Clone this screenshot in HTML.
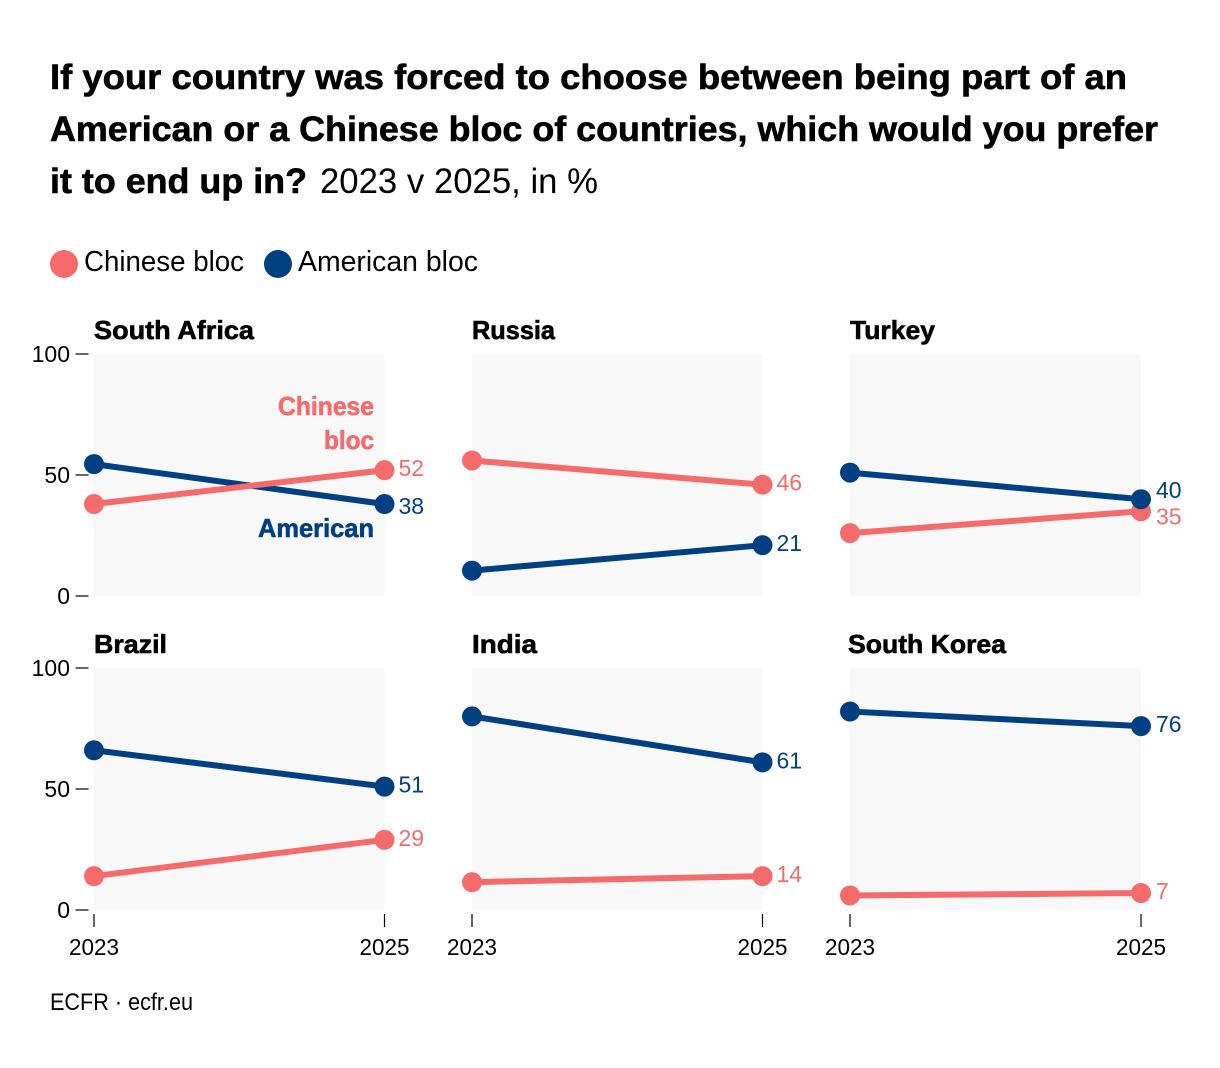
<!DOCTYPE html>
<html lang="en">
<head>
<meta charset="utf-8">
<title>American or Chinese bloc, 2023 v 2025</title>
<style>
html,body{margin:0;padding:0;background:#fff;width:1220px;height:1068px;overflow:hidden}
svg{display:block;font-family:"Liberation Sans",sans-serif}
.heavy{stroke:currentColor;stroke-width:.6px}
</style>
</head>
<body>
<svg id="chart" xmlns="http://www.w3.org/2000/svg" width="1220" height="1068" viewBox="0 0 1220 1068">
  <g fill="#000" color="#000">
    <text class="heavy" x="50" y="89" font-size="35" font-weight="700" textLength="1077" lengthAdjust="spacingAndGlyphs">If your country was forced to choose between being part of an</text>
    <text class="heavy" x="50" y="141" font-size="35" font-weight="700" textLength="1108" lengthAdjust="spacingAndGlyphs">American or a Chinese bloc of countries, which would you prefer</text>
    <text class="heavy" x="50" y="193" font-size="35" font-weight="700" textLength="257" lengthAdjust="spacingAndGlyphs">it to end up in?</text>
    <text x="320" y="193" font-size="35" textLength="278" lengthAdjust="spacingAndGlyphs">2023 v 2025, in %</text>
  </g>
  <g>
    <circle cx="64" cy="264" r="14" fill="#f56b6b"/>
    <text x="84" y="271" font-size="29" fill="#000" textLength="160" lengthAdjust="spacingAndGlyphs">Chinese bloc</text>
    <circle cx="278" cy="264" r="14" fill="#003f82"/>
    <text x="298" y="271" font-size="29" fill="#000" textLength="180" lengthAdjust="spacingAndGlyphs">American bloc</text>
  </g>
  <g id="panels"></g>
  <text x="50" y="1010" font-size="24" fill="#000" textLength="143" lengthAdjust="spacingAndGlyphs">ECFR · ecfr.eu</text>
</svg>
<script>
const countries = ["South Africa", "Russia", "Turkey", "Brazil", "India", "South Korea"];
const years = [2023, 2025];
const chineseBloc = [[38, 52], [56, 46], [26, 35], [14, 29], [11.5, 14], [6, 7]];
const americanBloc = [[54.5, 38], [10.5, 21], [51, 40], [66, 51], [80, 61], [82, 76]];
const yTicks = [0, 50, 100];

const RED = "#f56b6b", BLUE = "#003f82";
const NS = "http://www.w3.org/2000/svg";
const root = document.getElementById("panels");

const colX = [94, 472, 850];
const colW = [290.5, 290.5, 291];
const labelGap = [14, 14, 15];
const rowBottom = [596, 910];
const plotH = 242;
const titleWidths = [160, 83, 85, 73, 65, 158];
const titleX = [94, 472, 850, 94, 472, 848];

function mk(parent, tag, attrs, text) {
  const el = document.createElementNS(NS, tag);
  for (const k in attrs) el.setAttribute(k, attrs[k]);
  if (text !== undefined) el.textContent = text;
  parent.appendChild(el);
  return el;
}
function xScale(left, width, year) {
  return left + (year - years[0]) / (years[1] - years[0]) * width;
}
function yScale(bottom, v) {
  return bottom - v / 100 * plotH;
}

function drawLine(g, left, width, bottom, values, color, key) {
  const line = mk(g, "line", {
    x1: xScale(left, width, years[0]), y1: yScale(bottom, values[0]),
    x2: xScale(left, width, years[1]), y2: yScale(bottom, values[1]),
    stroke: color, "stroke-width": 6
  });
  
  
}

function drawPoints(g, left, width, bottom, values, color, key) {
  years.forEach((yr, i) => {
    const dot = mk(g, "circle", {
      cx: xScale(left, width, yr), cy: yScale(bottom, values[i]), r: 10, fill: color
    });
    
    
  });
}

function drawValueLabel(g, x, bottom, value, color, key, nudge) {
  const label = mk(g, "text", {
    x: x,
    y: yScale(bottom, value) + 6 + nudge,
    "font-size": 23, fill: color
  }, String(value));
  
  
}

countries.forEach((name, idx) => {
  const col = idx % 3, row = Math.floor(idx / 3);
  const left = colX[col], width = colW[col], bottom = rowBottom[row], top = bottom - plotH;
  const g = mk(root, "g", {});
  
  

  const bg = mk(g, "rect", { x: left, y: top, width: width, height: plotH, fill: "#f8f8f8" });
  
  

  const title = mk(g, "text", {
    x: titleX[idx], y: top - 15, "font-size": 26, "font-weight": 700, fill: "#000", color: "#000", class: "heavy",
    textLength: titleWidths[idx], lengthAdjust: "spacingAndGlyphs"
  }, name);
  
  

  if (col === 0) {
    yTicks.forEach(t => {
      const y = yScale(bottom, t);
      const tick = mk(g, "line", { x1: 75.5, x2: 88.5, y1: y, y2: y, stroke: "#000", "stroke-width": 1.2 });
      
      
      const lab = mk(g, "text", { x: 70, y: y + 8, "font-size": 23, "text-anchor": "end", fill: "#000" }, String(t));
      
      
    });
  }
  if (row === 1) {
    years.forEach(yr => {
      const x = xScale(left, width, yr);
      const tick = mk(g, "line", { x1: x, x2: x, y1: 914, y2: 927, stroke: "#000", "stroke-width": 1.2 });
      
      
      const lab = mk(g, "text", {
        x: x, y: 955, "font-size": 23, "text-anchor": "middle", fill: "#000",
        textLength: 50, lengthAdjust: "spacingAndGlyphs"
      }, String(yr));
      
      
    });
  }

  drawLine(g, left, width, bottom, americanBloc[idx], BLUE, 'american');
  drawLine(g, left, width, bottom, chineseBloc[idx], RED, 'chinese');
  drawPoints(g, left, width, bottom, chineseBloc[idx], RED, 'chinese');
  drawPoints(g, left, width, bottom, americanBloc[idx], BLUE, 'american');

  const redEnd = chineseBloc[idx][1], blueEnd = americanBloc[idx][1];
  const gap = Math.abs(redEnd - blueEnd);
  const redNudge = gap < 8 ? (redEnd < blueEnd ? 7 : -7) : 0;
  const blueNudge = gap < 8 ? -redNudge : gap < 20 ? 4 : 0;
  const labelX = xScale(left, width, years[1]) + labelGap[col];
  drawValueLabel(g, labelX, bottom, redEnd, RED, 'chinese', redNudge);
  drawValueLabel(g, labelX, bottom, blueEnd, BLUE, 'american', blueNudge);

  if (idx === 0) {
    const l1 = mk(g, "text", { x: 374, y: 415, "font-size": 26, "font-weight": 700, fill: RED, color: RED, class: "heavy", "text-anchor": "end", textLength: 96, lengthAdjust: "spacingAndGlyphs" }, "Chinese");
    
    
    const l2 = mk(g, "text", { x: 374, y: 449, "font-size": 26, "font-weight": 700, fill: RED, color: RED, class: "heavy", "text-anchor": "end", textLength: 50, lengthAdjust: "spacingAndGlyphs" }, "bloc");
    
    
    const l3 = mk(g, "text", { x: 374, y: 537, "font-size": 26, "font-weight": 700, fill: BLUE, color: BLUE, class: "heavy", "text-anchor": "end", textLength: 116, lengthAdjust: "spacingAndGlyphs" }, "American");
    
    
  }
});
</script>
</body>
</html>
